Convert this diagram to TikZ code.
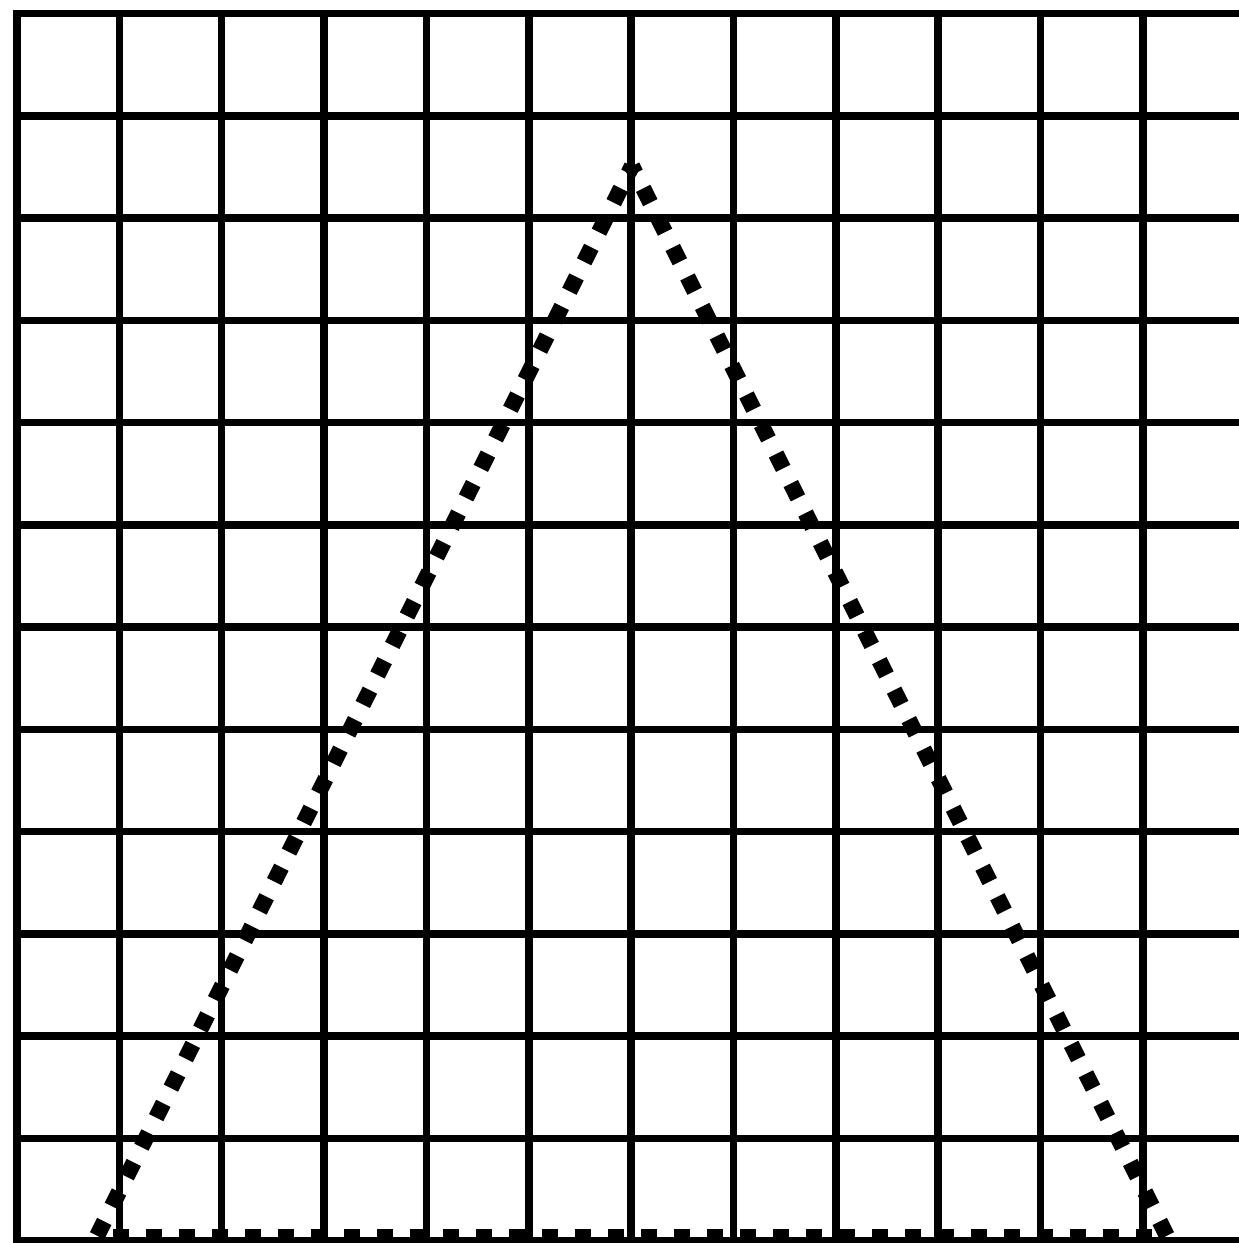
\documentclass[tikz,border=0pt]{standalone}
\begin{document}
\begin{tikzpicture}[x=1pt,y=-1pt,
  gridline/.style={line width=7.5pt,line cap=rect,black},
  dotline/.style={line width=16pt,black,dash pattern=on 16pt off 17pt}]
\useasboundingbox (0,0) rectangle (1239,1243);
\fill[white] (0,0) rectangle (1239,1243);
\coordinate (A) at (95,1240);
\coordinate (B) at (632,166);
\coordinate (C) at (1169,1240);
\coordinate (A2) at (96.5,1237);
\coordinate (C2) at (1167.5,1237);
\begin{scope}
\clip (0,0) rectangle (1239,1243);
\draw[dotline,dash phase=8pt] (B) -- (A);
\draw[dotline,dash phase=8pt] (B) -- (C);
\draw[dotline,dash phase=16.5pt] (A2) -- (C2);
\foreach \i in {0,...,12} {
  \draw[gridline] ({17+102.35*\i},13.5) -- ({17+102.35*\i},1240.5);
  \draw[gridline] (17,{13.5+102.25*\i}) -- (1250,{13.5+102.25*\i});
}
\end{scope}
\end{tikzpicture}
\end{document}
